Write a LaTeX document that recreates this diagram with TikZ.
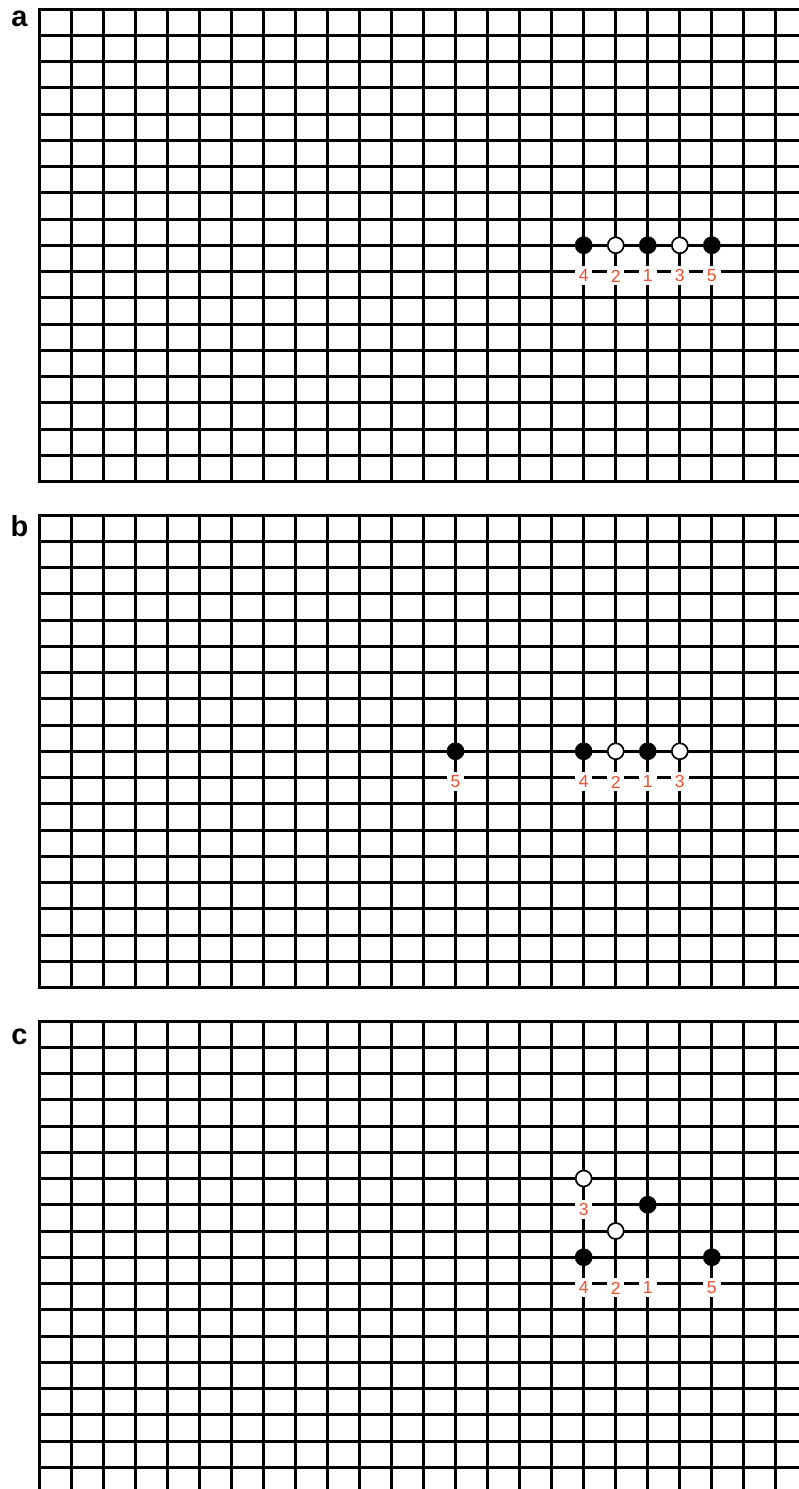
\documentclass[tikz,border=0pt]{standalone}
\usepackage{fontspec}
\setmainfont{Liberation Sans}
\usetikzlibrary{positioning}
\definecolor{movered}{HTML}{EE4F2E}

\begin{document}
\begin{tikzpicture}[x=1pt, y=1pt,
    gridline/.style={line width=3pt, line cap=rect},
    blackstone/.style={circle, draw=black, fill=black, line width=1.7pt, minimum size=16pt, inner sep=0pt},
    whitestone/.style={blackstone, fill=white},
    movenum/.style={fill=white, text=movered, font=\fontsize{17.5}{17.5}\selectfont, inner sep=0pt, minimum width=17.5pt, minimum height=19pt, yshift=-4.4pt},
    panellabel/.style={font=\fontsize{29}{29}\selectfont\bfseries, anchor=base}]
    \useasboundingbox (0,0) rectangle (799,-1489);

    % Panel a
    \node[panellabel] (laba) at (19.5,-26) {a};
    \begin{scope}[shift={(39pt,-9pt)}, x=32.04pt, y=-26.25pt]
        \foreach \c in {0,...,23} \draw[gridline] (\c,0) -- (\c,18);
        \foreach \r in {0,...,18} \draw[gridline] (0,\r) -- (23.72,\r);
        % stones
        \node[blackstone] (a1) at (19,9) {};
        \node[whitestone] (a2) at (18,9) {};
        \node[whitestone] (a3) at (20,9) {};
        \node[blackstone] (a4) at (17,9) {};
        \node[blackstone] (a5) at (21,9) {};
        % move numbers
        \node[movenum] (a1n) at (19,10) {1};
        \node[movenum] (a2n) at (18,10) {2};
        \node[movenum] (a3n) at (20,10) {3};
        \node[movenum] (a4n) at (17,10) {4};
        \node[movenum] (a5n) at (21,10) {5};
    \end{scope}

    % Panel b
    \node[panellabel] (labb) at (19.5,-536.5) {b};
    \begin{scope}[shift={(39pt,-515pt)}, x=32.04pt, y=-26.25pt]
        \foreach \c in {0,...,23} \draw[gridline] (\c,0) -- (\c,18);
        \foreach \r in {0,...,18} \draw[gridline] (0,\r) -- (23.72,\r);
        % stones
        \node[blackstone] (b1) at (19,9) {};
        \node[whitestone] (b2) at (18,9) {};
        \node[whitestone] (b3) at (20,9) {};
        \node[blackstone] (b4) at (17,9) {};
        \node[blackstone] (b5) at (13,9) {};
        % move numbers
        \node[movenum] (b1n) at (19,10) {1};
        \node[movenum] (b2n) at (18,10) {2};
        \node[movenum] (b3n) at (20,10) {3};
        \node[movenum] (b4n) at (17,10) {4};
        \node[movenum] (b5n) at (13,10) {5};
    \end{scope}

    % Panel c
    \node[panellabel] (labc) at (19.5,-1044) {c};
    \begin{scope}[shift={(39pt,-1021pt)}, x=32.04pt, y=-26.25pt]
        \foreach \c in {0,...,23} \draw[gridline] (\c,0) -- (\c,18);
        \foreach \r in {0,...,17} \draw[gridline] (0,\r) -- (23.72,\r);
        % stones
        \node[blackstone] (c1) at (19,7) {};
        \node[whitestone] (c2) at (18,8) {};
        \node[whitestone] (c3) at (17,6) {};
        \node[blackstone] (c4) at (17,9) {};
        \node[blackstone] (c5) at (21,9) {};
        % move numbers
        \node[movenum] (c1n) at (19,10) {1};
        \node[movenum] (c2n) at (18,10) {2};
        \node[movenum] (c3n) at (17,7) {3};
        \node[movenum] (c4n) at (17,10) {4};
        \node[movenum] (c5n) at (21,10) {5};
    \end{scope}
\end{tikzpicture}
\end{document}
